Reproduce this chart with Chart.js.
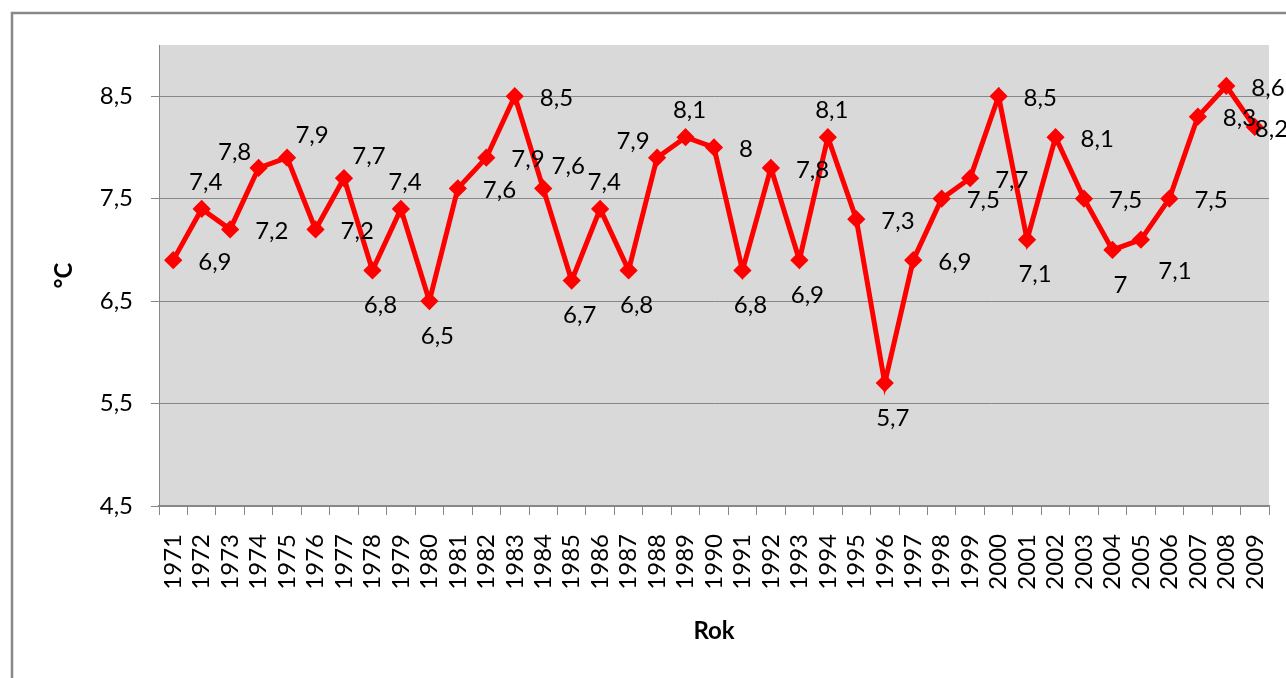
<!DOCTYPE html>
<html><head><meta charset="utf-8">
<script src="https://cdn.jsdelivr.net/npm/chart.js@4.4.1/dist/chart.umd.min.js"></script>
<style>html,body{margin:0;padding:0;background:#fff;overflow:hidden}#wrap{width:1286px;height:678px;position:relative}</style>
</head><body><div id="wrap"><canvas id="c" width="1286" height="678"></canvas></div>
<script>
const years = ['1971','1972','1973','1974','1975','1976','1977','1978','1979','1980','1981','1982','1983','1984','1985','1986','1987','1988','1989','1990','1991','1992','1993','1994','1995','1996','1997','1998','1999','2000','2001','2002','2003','2004','2005','2006','2007','2008','2009'];
const temperatures = [6.9,7.4,7.2,7.8,7.9,7.2,7.7,6.8,7.4,6.5,7.6,7.9,8.5,7.6,6.7,7.4,6.8,7.9,8.1,8.0,6.8,7.8,6.9,8.1,7.3,5.7,6.9,7.5,7.7,8.5,7.1,8.1,7.5,7.0,7.1,7.5,8.3,8.6,8.2];
const yTicks = [4.5,5.5,6.5,7.5,8.5];
const yTitle = '°C';
const xTitle = 'Rok';
// label placement relative to its point (style only)
const labelPlacement = ['R','A','R','AL','AR','R','AR','B','A','B','R','R','R','AR','B','A','B','AL','A','R','B','R','B','A','R','B','R','R','R','R','B','R','R','B','BR','R','R','R','RC'];

const fmt = v => String(v).replace('.', ',');
const FONT = 'Lato, "Open Sans", sans-serif';
const GRID = '#878787';

const framePlugin = {
  id: 'frame',
  beforeDraw(chart) {
    const {ctx, chartArea: a} = chart;
    ctx.save();
    ctx.fillStyle = '#fff';
    ctx.fillRect(0, 0, chart.width, chart.height);
    ctx.strokeStyle = '#888';
    ctx.lineWidth = 2.5;
    ctx.strokeRect(12, 13, 2000, 2000);
    ctx.fillStyle = '#D9D9D9';
    ctx.fillRect(a.left, a.top, a.right - a.left, a.bottom - a.top);
    ctx.restore();
  }
};

const labelPlugin = {
  id: 'valueLabels',
  afterDatasetsDraw(chart) {
    const {ctx} = chart;
    const meta = chart.getDatasetMeta(0);
    ctx.save();
    ctx.font = '24px ' + FONT;
    ctx.fillStyle = '#000';
    ctx.textBaseline = 'middle';
    meta.data.forEach((pt, i) => {
      const txt = fmt(temperatures[i]);
      const p = labelPlacement[i];
      let x = pt.x, y = pt.y, align = 'center';
      if (p === 'R') { x += 25; y += 2; align = 'left'; }
      else if (p === 'RC') { x += 0; y += 2; align = 'left'; }
      else if (p === 'A') { x += 4; y -= 27; }
      else if (p === 'B') { x += 8; y += 35; }
      else if (p === 'AR') { x += 25; y -= 22; }
      else if (p === 'AL') { x -= 24; y -= 16; }
      else if (p === 'BR') { x += 34; y += 32; }
      ctx.textAlign = align;
      ctx.fillText(txt, x, y);
    });
    ctx.restore();
  }
};

new Chart(document.getElementById('c'), {
  type: 'line',
  data: {
    labels: years,
    datasets: [{
      data: temperatures,
      borderColor: '#FF0000',
      backgroundColor: '#FF0000',
      borderWidth: 5,
      tension: 0,
      pointStyle: 'rectRot',
      pointRadius: 7,
      pointBorderWidth: 3,
      pointBackgroundColor: '#FF0000',
      pointBorderColor: '#FF0000',
      clip: false
    }]
  },
  options: {
    responsive: false,
    animation: false,
    devicePixelRatio: 1,
    layout: {padding: {left: 0, top: 45, right: 17, bottom: 0}},
    plugins: {legend: {display: false}, tooltip: {enabled: false}},
    scales: {
      x: {
        offset: true,
        grid: {display: true, drawOnChartArea: false, drawTicks: true, offset: true, tickLength: 9, color: GRID, lineWidth: 1},
        border: {display: true, color: GRID, width: 2},
        ticks: {autoSkip: false, minRotation: 90, maxRotation: 90, padding: 19, color: '#000', font: {family: FONT, size: 24}},
        title: {display: true, text: xTitle, color: '#000', font: {family: FONT, size: 24, weight: 'bold'}, padding: {top: 0, bottom: 32}},
        afterFit(s) { s.height = 172; s.paddingLeft = 0; s.paddingRight = 0; }
      },
      y: {
        min: 4.5,
        max: 9,
        afterBuildTicks(axis) { axis.ticks = yTicks.map(v => ({value: v})); },
        grid: {color: GRID, lineWidth: 1, tickLength: 8, drawTicks: true},
        border: {display: true, color: GRID, width: 1},
        ticks: {padding: 18, color: '#000', font: {family: FONT, size: 24}, callback: v => fmt(v)},
        title: {display: true, text: yTitle, color: '#000', font: {family: FONT, size: 24, weight: 'bold'}, padding: {top: 50, bottom: 0}},
        afterFit(s) { s.width = 159; s.paddingTop = 0; s.paddingBottom = 0; }
      }
    }
  },
  plugins: [framePlugin, labelPlugin]
});
</script>
</body></html>
